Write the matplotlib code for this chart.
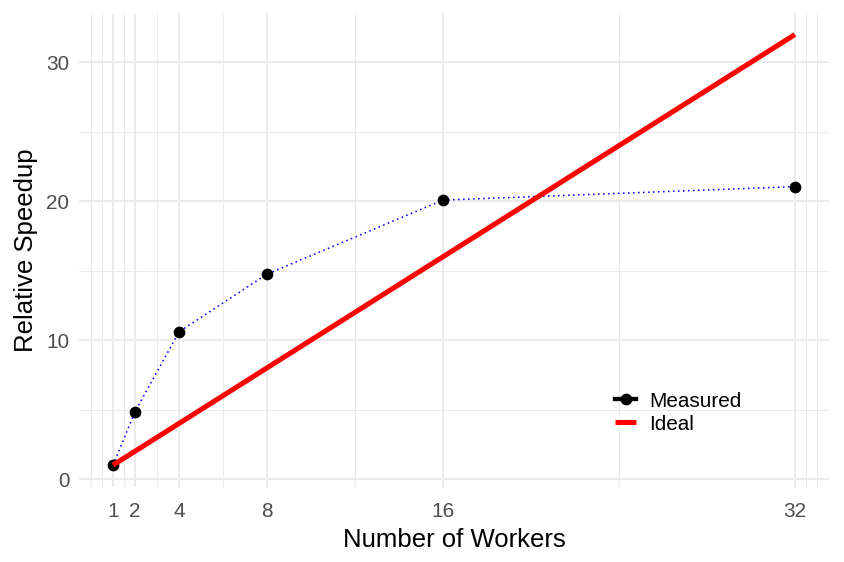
import matplotlib
matplotlib.use('Agg')
import matplotlib.pyplot as plt
from matplotlib.lines import Line2D

plt.rcParams['font.family'] = ['Liberation Sans', 'DejaVu Sans']

# ── Data ──────────────────────────────────────────────────────
workers  = [1, 2, 4, 8, 16, 32]
measured = [1.0, 4.85, 10.6, 14.75, 20.08, 21.05]
ideal    = [1, 32]

x_major = [1, 2, 4, 8, 16, 32]
x_minor = [0, 0.5, 1.5, 3, 6, 12, 24, 32.5, 33]
y_major = [0, 10, 20, 30]
y_minor = [5, 15, 25]

GRID = '#EBEBEB'

fig = plt.figure(figsize=(6, 4), dpi=844 / 6)
ax = fig.add_axes([0.0936, 0.134, 0.8886, 0.8417])

ax.plot(workers, measured, color='#0000FF', linestyle=(0, (1, 2.2)),
        linewidth=0.8, zorder=3)
ax.plot(workers, measured, 'o', color='black', markersize=5, zorder=4)
ax.plot(ideal, ideal, color='#FF0000', linewidth=2.6, solid_capstyle='butt',
        zorder=5)

ax.set_xlim(1 - 0.05 * 31, 32 + 0.05 * 31)
ax.set_ylim(1 - 0.05 * 31, 32 + 0.05 * 31)

ax.set_xticks(x_major)
ax.set_xticks(x_minor, minor=True)
ax.set_yticks(y_major)
ax.set_yticks(y_minor, minor=True)

ax.grid(which='major', color=GRID, linewidth=1.07)
ax.grid(which='minor', color=GRID, linewidth=0.53)
ax.set_axisbelow(True)
for s in ax.spines.values():
    s.set_visible(False)
ax.tick_params(which='both', length=0, labelsize=10.6, colors='#4D4D4D')
ax.tick_params(axis='x', pad=7.5)
ax.tick_params(axis='y', pad=5)

ax.set_xlabel('Number of Workers', fontsize=13.2, labelpad=3.5)
ax.set_ylabel('Relative Speedup', fontsize=13.2, labelpad=4)

handles = [Line2D([], [], color='black', linewidth=2.2, marker='o',
                  markersize=5),
           Line2D([], [], color='#FF0000', linewidth=2.6,
                  solid_capstyle='butt')]
ax.legend(handles, ['Measured', 'Ideal'], loc='center left',
          bbox_to_anchor=(0.715, 0.157), frameon=False, fontsize=10.6,
          handlelength=1.0, handletextpad=0.65, labelspacing=0.2,
          borderpad=0, borderaxespad=0)

fig.savefig('out.png', dpi=844 / 6)
